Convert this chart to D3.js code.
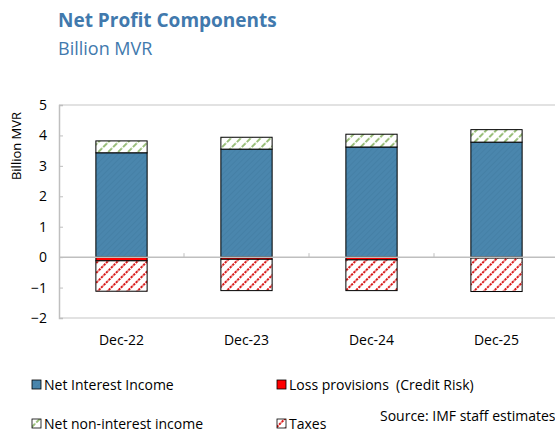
<!DOCTYPE html>
<html>
<head>
<meta charset="utf-8">
<script src="https://cdn.jsdelivr.net/npm/d3@7"></script>
<style>
  body { margin: 0; background: #fff; }
  text { font-family: "Open Sans", "Noto Sans", sans-serif; white-space: pre; }
</style>
</head>
<body>
<div id="chart"></div>
<script>
var width = 555, height = 444;

// data
var categories = ["Dec-22", "Dec-23", "Dec-24", "Dec-25"];
var netInterest = [3.43, 3.55, 3.62, 3.78];
var nonInterest = [0.39, 0.39, 0.42, 0.41];
var lossProv = [-0.12, -0.07, -0.09, -0.03];
var taxes = [-1.0, -1.03, -1.01, -1.1];
var yTicks = [-2, -1, 0, 1, 2, 3, 4, 5];

var seriesKeys = ["nii", "nnii", "loss", "tax"];
var seriesNames = {
  nii: "Net Interest Income",
  nnii: "Net non-interest income",
  loss: "Loss provisions  (Credit Risk)",
  tax: "Taxes"
};

var rows = categories.map(function(c, i) {
  return {cat: c, nii: netInterest[i], nnii: nonInterest[i], loss: lossProv[i], tax: taxes[i]};
});

var svg = d3.select("#chart")
  .append("svg")
    .attr("width", width)
    .attr("height", height);

// patterns
var defs = svg.append("defs");

var pBlue = defs.append("pattern")
  .attr("id", "blue")
  .attr("width", 4).attr("height", 4)
  .attr("patternUnits", "userSpaceOnUse")
  .attr("patternTransform", "rotate(45)");
pBlue.append("rect").attr("width", 4).attr("height", 4).attr("fill", "#4a86ad");
pBlue.append("rect").attr("width", 1).attr("height", 4).attr("fill", "#4580a6");

function hatch(id, color, dash) {
  var p = defs.append("pattern")
    .attr("id", id)
    .attr("width", 7).attr("height", 7)
    .attr("patternUnits", "userSpaceOnUse")
    .attr("patternTransform", "rotate(45)");
  p.append("rect").attr("width", 7).attr("height", 7).attr("fill", "#fff");
  p.append("line")
    .attr("x1", 2).attr("y1", 0).attr("x2", 2).attr("y2", 7)
    .attr("stroke", color)
    .attr("stroke-width", 1.8)
    .attr("stroke-dasharray", dash);
}
hatch("green", "#8fb86c", "3,1.5");
hatch("redh", "#d40000", "2.5,1");

var fills = {nii: "url(#blue)", nnii: "url(#green)", loss: "#ff0000", tax: "url(#redh)"};

var x = d3.scaleBand()
  .domain(categories)
  .range([59, 559])
  .paddingInner(0.59)
  .paddingOuter(0.295);

var y = d3.scaleLinear()
  .domain([-2, 5])
  .range([318, 105]);

// titles
svg.append("text")
  .attr("x", 58).attr("y", 27)
  .attr("font-size", 19).attr("font-weight", "bold")
  .attr("fill", "#4179ad")
  .text("Net Profit Components");

svg.append("text")
  .attr("x", 58).attr("y", 55)
  .attr("font-size", 18)
  .attr("fill", "#4179ad")
  .text("Billion MVR");

// plot frame
svg.append("line")
  .attr("x1", 59).attr("x2", width)
  .attr("y1", y(5)).attr("y2", y(5))
  .attr("stroke", "#d9d9d9").attr("stroke-width", 1.5);
svg.append("line")
  .attr("x1", 59).attr("x2", width)
  .attr("y1", y(-2)).attr("y2", y(-2))
  .attr("stroke", "#d9d9d9").attr("stroke-width", 1.5);

// y axis
var yAxis = svg.append("g")
  .attr("transform", "translate(59,0)")
  .call(d3.axisLeft(y).tickValues(yTicks).tickSize(-4).tickPadding(12).tickFormat(d3.format("d")));
yAxis.select(".domain").attr("stroke", "#bfbfbf").attr("stroke-width", 1.5);
yAxis.selectAll(".tick line").attr("stroke", "#bfbfbf");
yAxis.selectAll("text").attr("font-size", 14).attr("fill", "#000")
  .attr("font-family", "'Open Sans', sans-serif");

svg.append("text")
  .attr("transform", "translate(21," + 146 + ") rotate(-90)")
  .attr("text-anchor", "middle")
  .attr("font-size", 13)
  .text("Billion MVR");

// stacked bars
var stack = d3.stack()
  .keys(seriesKeys)
  .offset(d3.stackOffsetDiverging);
var layers = stack(rows);

svg.append("g")
  .selectAll("g")
  .data(layers)
  .join("g")
    .attr("fill", function(d) { return fills[d.key]; })
  .selectAll("rect")
  .data(function(d) { return d; })
  .join("rect")
    .attr("x", function(d) { return x(d.data.cat); })
    .attr("width", x.bandwidth())
    .attr("y", function(d) { return y(Math.max(d[0], d[1])); })
    .attr("height", function(d) { return Math.abs(y(d[0]) - y(d[1])); })
    .attr("stroke", "#000")
    .attr("stroke-width", 1);

// zero line
var zeroAxis = svg.append("g")
  .attr("transform", "translate(0," + y(0) + ")");
zeroAxis.append("line")
  .attr("x1", 59).attr("x2", width)
  .attr("stroke", "#bfbfbf").attr("stroke-width", 1.5);
// little tick marks between categories
zeroAxis.selectAll(".sep")
  .data(categories.slice(1))
  .join("line")
    .attr("class", "sep")
    .attr("x1", function(d) { return x(d) - x.step() * x.paddingInner() / 2; })
    .attr("x2", function(d) { return x(d) - x.step() * x.paddingInner() / 2; })
    .attr("y1", 0).attr("y2", -4)
    .attr("stroke", "#bfbfbf");

// category labels
svg.append("g")
  .selectAll("text")
  .data(categories)
  .join("text")
    .attr("x", function(d) { return x(d) + x.bandwidth() / 2; })
    .attr("y", 345)
    .attr("text-anchor", "middle")
    .attr("font-size", 14)
    .text(function(d) { return d; });

// legend
var legendItems = [
  {key: "nii", x: 32, y: 385},
  {key: "loss", x: 277, y: 385},
  {key: "nnii", x: 32, y: 424},
  {key: "tax", x: 277, y: 424}
];
var lg = svg.append("g")
  .selectAll("g")
  .data(legendItems)
  .join("g")
    .attr("transform", function(d) { return "translate(" + d.x + "," + d.y + ")"; });
lg.append("rect")
  .attr("x", 0).attr("y", -5)
  .attr("width", 9).attr("height", 9)
  .attr("fill", function(d) { return fills[d.key]; })
  .attr("stroke", "#000").attr("stroke-width", 0.8);
lg.append("text")
  .attr("x", 12).attr("y", 5)
  .attr("font-size", 14)
  .text(function(d) { return seriesNames[d.key]; });

svg.append("text")
  .attr("x", 380).attr("y", 421)
  .attr("font-size", 14)
  .text("Source: IMF staff estimates");
</script>
</body>
</html>
